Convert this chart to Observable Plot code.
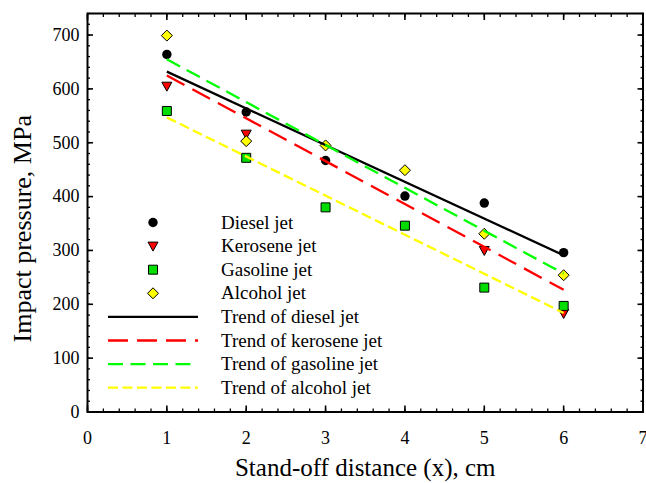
<!DOCTYPE html>
<html><head><meta charset="utf-8">
<script src="https://cdn.jsdelivr.net/npm/d3@7"></script>
<script src="https://cdn.jsdelivr.net/npm/@observablehq/plot@0.6"></script>
<style>body{margin:0;background:#fff} #chart{position:relative;width:646px;height:483px}
#chart svg text{font-family:'Liberation Serif','Times New Roman',serif}</style>
</head><body><div id="chart"></div>
<script>
// ---- data ----
const distance = [1, 2, 3, 4, 5, 6];
const diesel   = [664, 557, 467, 401, 388, 296];
const kerosene = [605, 516, null, null, 300, 183];   // 3 and 4 cm not visible in the reference
const gasoline = [559, 472, 380, 346, 231, 197];
const alcohol  = [699, 503, 495, 449, 331, 254];
const trendDistance = [1, 6];
const trendDiesel   = [632, 291];
const trendKerosene = [625, 227];
const trendGasoline = [655, 257];
const trendAlcohol  = [547, 184];
const seriesNames = ["Diesel jet", "Kerosene jet", "Gasoline jet", "Alcohol jet"];
const trendNames = ["Trend of diesel jet", "Trend of kerosene jet", "Trend of gasoline jet", "Trend of alcohol jet"];
const xTicks = [0, 1, 2, 3, 4, 5, 6, 7];
const yTicks = [0, 100, 200, 300, 400, 500, 600, 700];
const xMinor = d3.range(0, 71, 2).map(d => d / 10);
const yMinor = d3.range(0, 741, 20);
const xTitle = "Stand-off distance (x), cm";
const yTitle = "Impact pressure, MPa";

// ---- styles ----
const pointColors = ["black", "#ff0000", "#00dd00", "#ffff00"];
const trendColors = ["black", "#ff0000", "#00ff00", "#ffff00"];
const trendDash = [null, "20,9", "15,7.5", "10,4.5"];

const rad = s => Math.sqrt(s / Math.PI);
const symCircle = {draw(c, s){ const r = rad(s); c.moveTo(r, 0); c.arc(0, 0, r, 0, 2 * Math.PI); }};
const symTriDown = {draw(c, s){ const r = rad(s); c.moveTo(-r, -0.8 * r); c.lineTo(r, -0.8 * r); c.lineTo(0, r); c.closePath(); }};
const symSquare = {draw(c, s){ const r = rad(s) * 0.9; c.rect(-r, -r, 2 * r, 2 * r); }};
const symDiamond = {draw(c, s){ const r = rad(s); c.moveTo(0, -r); c.lineTo(r, 0); c.lineTo(0, r); c.lineTo(-r, 0); c.closePath(); }};
const symbols = [symCircle, symTriDown, symSquare, symDiamond];
const radii = [4.7, 5, 5, 5.5];

const rows = vals => distance.map((x, i) => ({x, y: vals[i]})).filter(d => d.y != null);
const trows = vals => trendDistance.map((x, i) => ({x, y: vals[i]}));
const pointSets = [diesel, kerosene, gasoline, alcohol].map(rows);
const trendSets = [trendDiesel, trendKerosene, trendGasoline, trendAlcohol].map(trows);

function dots(i) {
  return Plot.dot(pointSets[i], {x: "x", y: "y", symbol: symbols[i], r: radii[i],
    fill: pointColors[i], stroke: "black", strokeWidth: i === 0 ? 0 : 1});
}
function trend(i) {
  return Plot.line(trendSets[i], {x: "x", y: "y", stroke: trendColors[i], strokeWidth: 2.3,
    strokeDasharray: trendDash[i], strokeLinecap: "butt"});
}

const font = "'Liberation Serif', 'Times New Roman', serif";
const plot = Plot.plot({
  width: 646, height: 483,
  marginLeft: 87, marginRight: 3.5, marginTop: 13, marginBottom: 71.5,
  x: {domain: [0, 7]}, y: {domain: [0, 740]},
  style: {fontFamily: font, fontSize: "18px", color: "black", background: "white"},
  marks: [
    // inward ticks on all four sides
    Plot.axisX({anchor: "bottom", ticks: xMinor, tickSize: -3, tickFormat: () => "", label: null, strokeWidth: 1.3}),
    Plot.axisX({anchor: "top", ticks: xMinor, tickSize: -3, tickFormat: () => "", label: null, strokeWidth: 1.3}),
    Plot.axisX({anchor: "bottom", ticks: xTicks, tickSize: -6, tickFormat: () => "", label: null, strokeWidth: 1.6}),
    Plot.axisX({anchor: "top", ticks: xTicks, tickSize: -6, tickFormat: () => "", label: null, strokeWidth: 1.6}),
    Plot.axisY({anchor: "left", ticks: yMinor, tickSize: -3, tickFormat: () => "", label: null, strokeWidth: 1.3}),
    Plot.axisY({anchor: "right", ticks: yMinor, tickSize: -3, tickFormat: () => "", label: null, strokeWidth: 1.3}),
    Plot.axisY({anchor: "left", ticks: yTicks, tickSize: -6, tickFormat: () => "", label: null, strokeWidth: 1.6}),
    Plot.axisY({anchor: "right", ticks: yTicks, tickSize: -6, tickFormat: () => "", label: null, strokeWidth: 1.6}),
    // tick labels
    Plot.axisX({anchor: "bottom", ticks: xTicks, tickSize: 0, tickPadding: 19, tickFormat: d3.format("d"), label: null, fontSize: 18, fontFamily: font, fontVariant: "normal"}),
    Plot.axisY({anchor: "left", ticks: yTicks, tickSize: 0, tickPadding: 8, tickFormat: d3.format("d"), label: null, fontSize: 18, fontFamily: font, fontVariant: "normal"}),
    // titles
    Plot.text([xTitle], {frameAnchor: "bottom", lineAnchor: "middle", textAnchor: "middle", dy: 55.5, fontSize: 25, fontFamily: font, fill: "black"}),
    Plot.text([yTitle], {frameAnchor: "left", lineAnchor: "middle", textAnchor: "middle", rotate: -90, dx: -65, dy: 16, fontSize: 26, fontFamily: font, fill: "black"}),
    // points (kerosene behind others)
    dots(1), dots(0), dots(2), dots(3),
    // trend lines
    trend(0), trend(1), trend(2), trend(3),
    Plot.frame({stroke: "black", strokeWidth: 2})
  ]
});

// ---- legend inside plot area ----
const svg = d3.select(plot);
const lg = svg.append("g").style("font-family", font).style("font-size", "19px").attr("fill", "black").attr("text-anchor", "start");
const rowY = i => 222.5 + i * 23.6;
seriesNames.forEach((name, i) => {
  lg.append("path")
    .attr("transform", `translate(153,${rowY(i)})`)
    .attr("d", d3.symbol(symbols[i], Math.PI * radii[i] * radii[i])())
    .attr("fill", pointColors[i]).attr("stroke", "black").attr("stroke-width", i === 0 ? 0 : 1);
  lg.append("text").attr("x", 221).attr("y", rowY(i)).attr("dy", "0.32em").text(name);
});
trendNames.forEach((name, j) => {
  const i = j + 4;
  lg.append("line").attr("x1", 108).attr("x2", 198).attr("y1", rowY(i)).attr("y2", rowY(i))
    .attr("stroke", trendColors[j]).attr("stroke-width", 2.3)
    .attr("stroke-dasharray", trendDash[j]);
  lg.append("text").attr("x", 221).attr("y", rowY(i)).attr("dy", "0.32em").text(name);
});

document.getElementById("chart").appendChild(plot);
</script>
</body></html>
